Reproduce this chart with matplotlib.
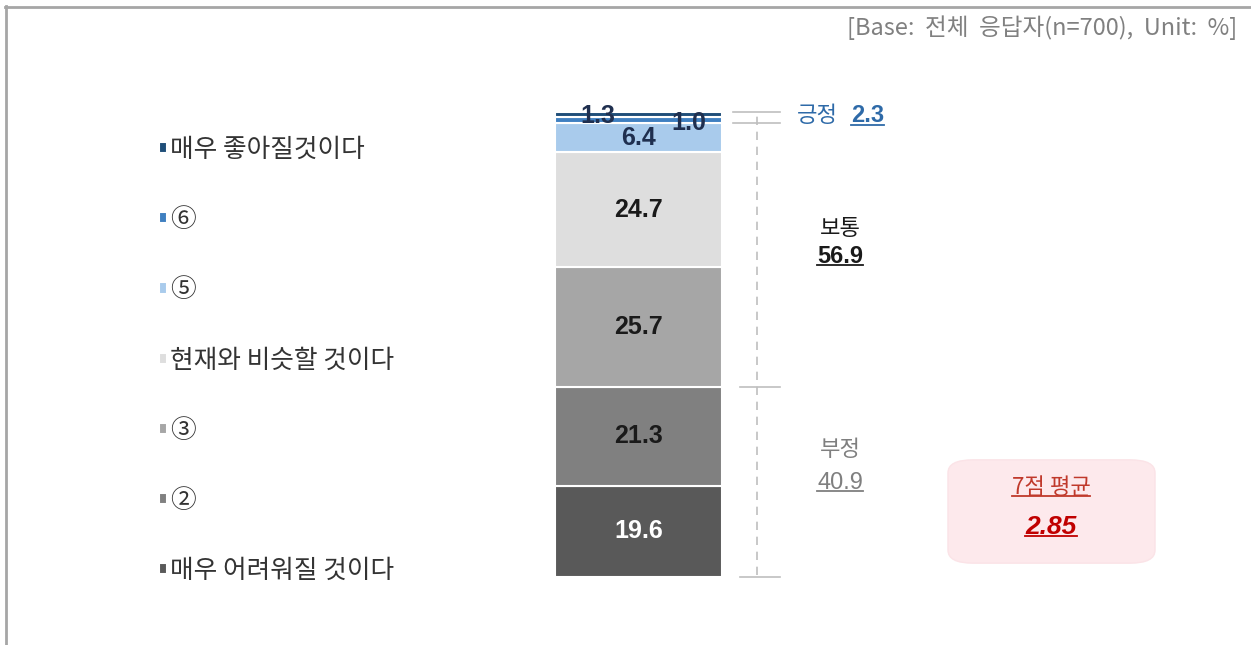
import matplotlib
matplotlib.use("Agg")
import numpy as np
import matplotlib.pyplot as plt
from matplotlib.lines import Line2D
from matplotlib.patches import FancyBboxPatch
from matplotlib.transforms import blended_transform_factory

plt.rcParams['font.family'] = ['Noto Sans CJK KR', 'DejaVu Sans']

# data, bottom to top of the stacked bar
categories = ['매우 어려워질 것이다', '②', '③', '현재와 비슷할 것이다', '⑤', '⑥', '매우 좋아질것이다']
values = [19.6, 21.3, 25.7, 24.7, 6.4, 1.3, 1.0]
colors = ['#595959', '#808080', '#a6a6a6', '#dedede', '#a9cbec', '#3f7fc0', '#1f4e79']
label_colors = ['white', '#1a1a1a', '#1a1a1a', '#1a1a1a', '#1f2f4f', '#1f2f4f', '#1f2f4f']
# label nudges (points) for the thin top segments
label_dx = [0, 0, 0, 0, 0, -29, 36]
label_dy = [0, 0, 0, 0, 0, 3, -6]

groups = ['부정', '보통', '긍정']
group_values = [40.9, 56.9, 2.3]
mean_label = '7점 평균'
mean_value = 2.85

W, H = 1251, 645
fig = plt.figure(figsize=(W / 100, H / 100), dpi=100)
fig.patch.set_facecolor('white')


def fx(px):
    return px / W


def fy(py):
    return 1 - py / H


ax = fig.add_axes([fx(555), fy(577), fx(722) - fx(555), fy(112) - fy(577)])
ax.set_xlim(-0.5, 0.5)
ax.set_ylim(0, 100)
ax.axis('off')

bottoms = np.concatenate([[0], np.cumsum(values)[:-1]])
bars = []
for v, b, c in zip(values, bottoms, colors):
    bars.append(ax.bar(0, v, bottom=b, width=1, color=c, edgecolor='white', linewidth=1.5))

for i, (v, b) in enumerate(zip(values, bottoms)):
    ax.annotate(f'{v:.1f}', xy=(0, b + v / 2), xytext=(label_dx[i], label_dy[i]),
                textcoords='offset points', ha='center', va='center',
                fontsize=18, fontweight='bold', color=label_colors[i],
                family='Liberation Sans', zorder=5)

# legend, top item first
handles = [bars[i].patches[0] for i in range(len(values))][::-1]
leg = fig.legend(handles, categories[::-1], loc='upper left',
                 bbox_to_anchor=(fx(146), fy(124)), frameon=False,
                 fontsize=18.5, handlelength=0.3, handleheight=0.3,
                 handletextpad=0.15, labelspacing=1.72, borderpad=0)
for t in leg.get_texts():
    t.set_color('#333333')

# bracket on the right of the bar
tr = blended_transform_factory(fig.transFigure, ax.transData)
cum = np.cumsum(values)
ax.add_line(Line2D([fx(757), fx(757)], [0.4, 99.2], transform=tr, color='#bfbfbf',
                   lw=1.2, ls=(0, (5, 4)), clip_on=False))
for yv, x0 in [(0, 740), (group_values[0], 740), (cum[4], 733), (100, 733)]:
    ax.add_line(Line2D([fx(x0), fx(780)], [yv, yv], transform=tr, color='#bfbfbf',
                       lw=1.2, clip_on=False))

under = []
t = fig.text(fx(797), fy(116), groups[2], fontsize=16, color='#2e6aa8', va='center')
under.append(fig.text(fx(851), fy(116), f'{group_values[2]:.1f}', fontsize=17,
                      color='#2e6aa8', va='center', fontweight='bold',
                      family='Liberation Sans'))
fig.text(fx(840), fy(228), groups[1], fontsize=16, color='#1a1a1a', ha='center', va='center')
under.append(fig.text(fx(840), fy(257), f'{group_values[1]:.1f}', fontsize=17,
                      color='#1a1a1a', ha='center', va='center', fontweight='bold',
                      family='Liberation Sans'))
fig.text(fx(840), fy(450), groups[0], fontsize=16, color='#7f7f7f', ha='center', va='center')
under.append(fig.text(fx(840), fy(483), f'{group_values[0]:.1f}', fontsize=17,
                      color='#7f7f7f', ha='center', va='center', family='Liberation Sans'))

# mean box
box = FancyBboxPatch((fx(958), fy(558)), fx(1145) - fx(958), fy(465) - fy(558),
                     boxstyle='round,pad=0.008,rounding_size=0.02',
                     transform=fig.transFigure, facecolor='#fde9ec', edgecolor='#fbe3e7',
                     lw=1)
fig.add_artist(box)
under.append(fig.text(fx(1051), fy(487), mean_label, fontsize=16, color='#c0392b',
                      ha='center', va='center'))
under.append(fig.text(fx(1051), fy(527), f'{mean_value:.2f}', fontsize=19, color='#c00000',
                      ha='center', va='center', fontweight='bold', fontstyle='italic',
                      family='Liberation Sans'))

fig.text(fx(1237), fy(28), '[Base:  전체  응답자(n=700),  Unit:  %]', fontsize=17,
         color='#808080', ha='right', va='center')

# frame lines (top and left)
fig.add_artist(Line2D([fx(5), 1], [fy(6.5), fy(6.5)], transform=fig.transFigure,
                      color='#a6a6a6', lw=2))
fig.add_artist(Line2D([fx(5.5), fx(5.5)], [fy(6), 0], transform=fig.transFigure,
                      color='#a6a6a6', lw=2))

# underlines
fig.canvas.draw()
inv = fig.transFigure.inverted()
for tx in under:
    bb = tx.get_window_extent()
    (x0, y0), (x1, _) = inv.transform([[bb.x0, bb.y0 + 3], [bb.x1, bb.y0]])
    fig.add_artist(Line2D([x0, x1], [y0, y0], transform=fig.transFigure,
                          color=tx.get_color(), lw=1.3))

fig.savefig('out.png', dpi=100)
